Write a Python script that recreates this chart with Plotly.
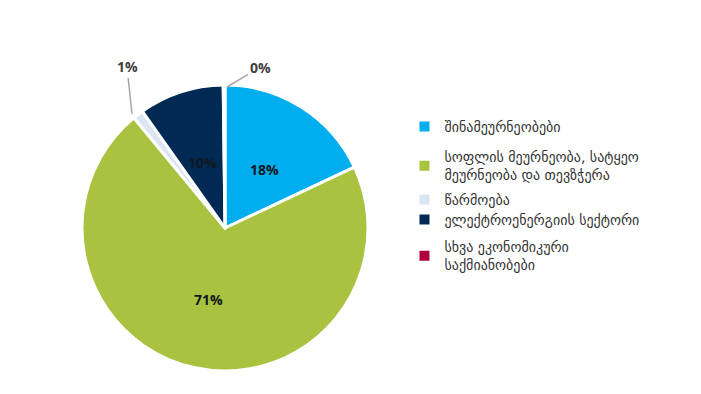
import plotly.graph_objects as go

labels = [
    "შინამეურნეობები",
    "სოფლის მეურნეობა, სატყეო<br>მეურნეობა და თევზჭერა",
    "წარმოება",
    "ელექტროენერგიის სექტორი",
    "სხვა ეკონომიკური<br>საქმიანობები",
]
values = [18.0, 71.0, 1.2, 9.6, 0.2]
text_labels = ["18%", "71%", "1%", "10%", "0%"]
colors = ["#00AEEF", "#A9C23F", "#DCE6F2", "#002A54", "#B0003A"]

fig = go.Figure(go.Pie(
    labels=labels,
    values=values,
    text=text_labels,
    textinfo="none",
    marker=dict(colors=colors, line=dict(color="white", width=3)),
    sort=False,
    direction="clockwise",
    rotation=0,
    showlegend=False,
    domain=dict(x=[(225 - 143) / 701, (225 + 143) / 701],
                y=[(166 - 143) / 394, (166 + 143) / 394]),
    hoverinfo="label+percent",
))

# legend entries (one small legend per category so spacing matches the original)
legend_names = ["legend", "legend2", "legend3", "legend4", "legend5"]
legend_centers_px = [127, 166, 200, 220, 256]
for i in range(len(labels)):
    fig.add_trace(go.Scatter(
        x=[None], y=[None], mode="markers",
        marker=dict(symbol="square", size=10, color=colors[i]),
        name=labels[i], legend=legend_names[i], showlegend=True,
        hoverinfo="skip",
    ))

legend_style = dict(font=dict(family="DejaVu Sans", size=14, color="#333333"),
                    itemwidth=30, xanchor="left", yanchor="middle",
                    bgcolor="rgba(0,0,0,0)", borderwidth=0)
layout_legends = {}
for name, cy in zip(legend_names, legend_centers_px):
    layout_legends[name] = dict(x=0.577, y=(394 - cy) / 394, **legend_style)

inside_font = dict(family="Open Sans", size=14, color="#111820")
inside_pos = [(0, 264, 170), (1, 208, 299), (3, 202, 163)]
for i, px, py in inside_pos:
    fig.add_annotation(x=px / 701, y=(394 - py) / 394, xref="paper", yref="paper",
                       xanchor="center", yanchor="middle",
                       text="<b>" + text_labels[i] + "</b>", showarrow=False,
                       font=inside_font)

fig.add_annotation(x=132 / 701, y=(394 - 114) / 394, xref="paper", yref="paper",
                   xanchor="center", yanchor="middle",
                   text="<b>" + text_labels[2] + "</b>", showarrow=True, arrowhead=0,
                   arrowwidth=1.5, arrowcolor="#A6A6A6", ax=-5, ay=-47,
                   font=dict(family="Open Sans", size=14, color="#404040"))
fig.add_annotation(x=227 / 701, y=(394 - 87) / 394, xref="paper", yref="paper",
                   xanchor="center", yanchor="middle",
                   text="<b>" + text_labels[4] + "</b>", showarrow=True, arrowhead=0,
                   arrowwidth=1.5, arrowcolor="#A6A6A6", ax=33, ay=-20,
                   font=dict(family="Open Sans", size=14, color="#404040"))

fig.update_layout(
    width=701, height=394,
    margin=dict(l=0, r=0, t=0, b=0),
    paper_bgcolor="white",
    plot_bgcolor="white",
    showlegend=True,
    xaxis=dict(visible=False),
    yaxis=dict(visible=False),
    **layout_legends,
)

fig.write_html("out.html")
